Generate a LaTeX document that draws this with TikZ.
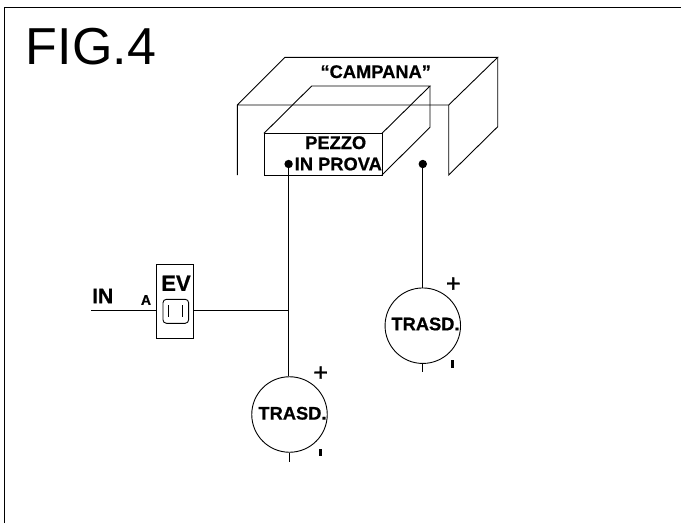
\documentclass[tikz,border=0pt]{standalone}
\usepackage{fontspec}
\setmainfont{Liberation Sans}[BoldFeatures={FakeBold=0.6}]
\newfontface\plusface{Liberation Sans}[FakeBold=1.2]
\begin{document}
\begin{tikzpicture}[x=1pt,y=-1pt,line width=0.9pt,line cap=butt,
  lab/.style={inner sep=0pt,font=\fontsize{18.3}{18}\selectfont\bfseries,align=center},
  trasd/.style={draw,circle,minimum size=75.5pt,inner sep=0pt},
  dotmark/.style={circle,fill=black,inner sep=0pt,minimum size=8.4pt},
  tickmark/.style={fill=black,inner sep=0pt,minimum width=3pt,minimum height=7.5pt},
  plus/.style={inner sep=0pt,font=\plusface\fontsize{25}{25}\selectfont}]
\useasboundingbox (0,0) rectangle (681,523);
\fill[white] (0,0) rectangle (681,523);
% frame
\draw[line width=1.4pt] (4.5,523) -- (4.5,7.5) -- (681,7.5);
\node[inner sep=0pt,anchor=base west,font=\fontsize{52}{52}\selectfont] (fig) at (25.5,64.5) {FIG.4};
% campana
\draw (237.3,175) -- (237.3,105) -- (285,57.3) -- (497.7,57.3) -- (448.7,105) -- (237.3,105);
\draw (448.7,105) -- (448.7,175) -- (497.7,126.7) -- (497.7,57.3);
\node[lab] (campana) at (375.7,71.7) {“CAMPANA”};
% pezzo
\draw (264,133.3) rectangle (382,175);
\draw (264,133.3) -- (311.7,86) -- (430,86) -- (382,133.3);
\draw (430,86) -- (430,127.3) -- (382,175);
\node[lab] (pezzo) at (335.7,142.7) {PEZZO};
\node[lab] (prova) at (338.3,164) {IN PROVA};
\node[dotmark] (d1) at (288.6,164) {};
\node[dotmark] (d2) at (422.8,164) {};
% transducers
\node[trasd] (t1) at (289.5,414.5) {};
\node[trasd] (t2) at (422.8,325.7) {};
\node[lab] (t1l) at (292.5,413.3) {TRASD.};
\node[lab] (t2l) at (425.5,324) {TRASD.};
\node[plus] (p1) at (320.7,373.7) {+};
\node[plus] (p2) at (453.3,284.7) {+};
\node[tickmark] (m1) at (320.3,452.7) {};
\node[tickmark] (m2) at (452.3,364) {};
\coordinate (e1) at (289.5,461.7);
\coordinate (e2) at (422.8,372.3);
\draw (t1.south) -- (e1);
\draw (t2.south) -- (e2);
\draw (d1.center) -- (d1.center |- t1.north) coordinate (j0);
\draw (d2.center) -- (d2.center |- t2.north);
% valve
\node[draw,minimum width=37.4pt,minimum height=74pt,inner sep=0pt] (ev) at (175,301.3) {};
\node[draw,rounded corners=3.5pt,minimum width=25.7pt,minimum height=24pt,inner sep=0pt] (ev2) at (175.8,311.3) {};
\draw[line width=0.5pt] (168.3,305) -- (168.3,316.7) (182.7,305) -- (182.7,316.7);
\node[lab,font=\fontsize{22}{22}\selectfont\bfseries] (evl) at (176,283.3) {EV};
\node[lab,font=\fontsize{21}{21}\selectfont\bfseries] (in) at (102.7,296) {IN};
\node[lab,font=\fontsize{14}{14}\selectfont\bfseries] (a) at (146,300) {A};
\coordinate (inl) at (91,310.3);
\coordinate (j) at (d1.center |- 0,310.3);
\draw (inl) -- (inl -| ev.west);
\draw (inl -| ev.east) -- (j);
\end{tikzpicture}
\end{document}
